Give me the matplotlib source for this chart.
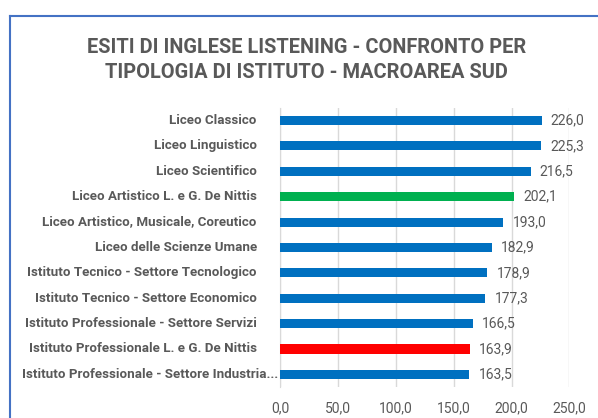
import matplotlib.pyplot as plt
from matplotlib.lines import Line2D
from matplotlib.ticker import FuncFormatter
from matplotlib.transforms import ScaledTranslation

categorie = [
    'Liceo Classico',
    'Liceo Linguistico',
    'Liceo Scientifico',
    'Liceo Artistico L. e G. De Nittis',
    'Liceo Artistico, Musicale, Coreutico',
    'Liceo delle Scienze Umane',
    'Istituto Tecnico - Settore Tecnologico',
    'Istituto Tecnico - Settore Economico',
    'Istituto Professionale - Settore Servizi',
    'Istituto Professionale L. e G. De Nittis',
    'Istituto Professionale - Settore Industria...',
]
punteggi = [226.0, 225.3, 216.5, 202.1, 193.0, 182.9, 178.9, 177.3, 166.5, 163.9, 163.5]
colori = ['#0070C0', '#0070C0', '#0070C0', '#00B050', '#0070C0', '#0070C0',
          '#0070C0', '#0070C0', '#0070C0', '#FF0000', '#0070C0']
tick_x = [0, 50, 100, 150, 200, 250]

plt.rcParams['font.family'] = ['Roboto', 'DejaVu Sans']
grigio = '#595959'
fig = plt.figure(figsize=(5.98, 4.18), dpi=100)
ax = fig.add_axes([0.469, 0.074, 0.483, 0.668])

pos = list(range(len(categorie)))
ax.barh(pos, punteggi, height=0.36, color=colori, zorder=3)
for p, v in zip(pos, punteggi):
    ax.text(v + 8, p, f'{v:.1f}'.replace('.', ','), va='center', ha='left',
            fontsize=10, color=grigio)

# etichette delle categorie, allineate a destra a sinistra dell'asse
for p, nome in zip(pos, categorie):
    dx = -2 / 72 if nome.endswith('...') else -17 / 72
    off = ScaledTranslation(dx, 0, fig.dpi_scale_trans)
    ax.text(0, p, nome, transform=ax.get_yaxis_transform() + off,
            ha='right', va='center', fontsize=9.6, fontweight='bold', color=grigio)

ax.set_ylim(len(categorie) - 0.5, -0.5)
ax.set_xlim(0, 250)
ax.set_xticks(tick_x)
ax.xaxis.set_major_formatter(FuncFormatter(lambda v, _: f'{v:.1f}'.replace('.', ',')))
ax.set_yticks([])
ax.tick_params(axis='x', length=0, pad=10, labelsize=10, labelcolor=grigio)
ax.grid(axis='x', color='#D9D9D9', linewidth=1, zorder=0)
for s in ['top', 'right', 'bottom']:
    ax.spines[s].set_visible(False)
ax.spines['left'].set_color('#D9D9D9')

fig.text(0.513, 0.857, 'ESITI DI INGLESE LISTENING - CONFRONTO PER\nTIPOLOGIA DI ISTITUTO - MACROAREA SUD',
         ha='center', va='center', fontsize=14.4, fontweight='bold', color=grigio,
         linespacing=1.42)

# bordo dell'area grafico
fig.add_artist(Line2D([10 / 598, 1], [1 - 16 / 418] * 2, transform=fig.transFigure,
                      color='#4472C4', linewidth=1.5))
fig.add_artist(Line2D([10 / 598] * 2, [0, 1 - 16 / 418], transform=fig.transFigure,
                      color='#4472C4', linewidth=1.5))

fig.savefig('out.png', dpi=100)
